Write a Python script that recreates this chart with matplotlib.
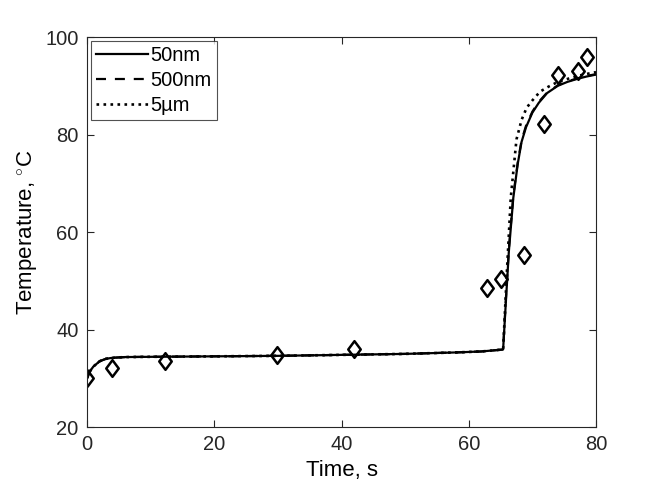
import matplotlib
matplotlib.use("Agg")
import matplotlib.pyplot as plt
from matplotlib.path import Path

matplotlib.rcParams.update({
    "font.family": "Liberation Sans",
    "mathtext.fontset": "custom",
    "mathtext.rm": "Liberation Sans",
    "font.size": 14.5,
})

# measured points
t_meas = [0.0, 4.0, 12.2, 29.9, 41.9, 62.8, 65.0, 68.7, 71.8, 74.1, 77.1, 78.6]
T_meas = [30.0, 32.2, 33.5, 34.8, 36.0, 48.6, 50.4, 55.3, 82.2, 92.2, 93.1, 96.0]

# simulated curves
t_50 = [0, 0.5, 1, 2, 3, 4, 6, 10, 20, 30, 40, 50, 58, 62, 65.4,
        65.8, 66.3, 67.0, 67.7, 68.3, 69.0, 70.0, 71.0, 72.3, 74.0, 75.5, 77.0, 78.5, 80]
T_50 = [30.0, 31.5, 32.4, 33.5, 34.0, 34.2, 34.35, 34.4, 34.5, 34.6, 34.8, 35.0, 35.3, 35.5, 35.9,
        45.0, 56.0, 67.0, 74.0, 78.5, 81.5, 84.5, 86.5, 88.5, 90.0, 90.8, 91.4, 91.9, 92.3]

t_500 = t_50
T_500 = [30.0, 31.5, 32.4, 33.5, 34.0, 34.2, 34.35, 34.4, 34.5, 34.6, 34.8, 35.0, 35.3, 35.5, 35.9,
         45.5, 56.5, 67.5, 74.3, 78.8, 81.8, 84.7, 86.7, 88.6, 90.1, 90.9, 91.5, 92.0, 92.4]

t_5u = [0, 0.5, 1, 2, 3, 4, 6, 10, 20, 30, 40, 50, 58, 62, 65.4,
        65.7, 66.0, 66.6, 67.5, 68.3, 69.1, 70.0, 71.2, 72.5, 74.0, 76.0, 78.0, 80]
T_5u = [30.0, 31.5, 32.4, 33.5, 34.0, 34.2, 34.35, 34.4, 34.5, 34.6, 34.8, 35.0, 35.3, 35.5, 35.9,
        44.0, 52.0, 67.0, 79.0, 83.0, 85.5, 87.0, 88.8, 89.8, 90.8, 91.6, 92.3, 92.8]

# matlab-like diamond
diamond = Path([(0, 1), (0.75, 0), (0, -1), (-0.75, 0), (0, 1)],
               [Path.MOVETO, Path.LINETO, Path.LINETO, Path.LINETO, Path.CLOSEPOLY])

fig = plt.figure(figsize=(6.58, 4.94), dpi=100)
ax = fig.add_axes([0.1322, 0.1356, 0.7736, 0.7894])

ax.plot(t_50, T_50, "k-", lw=1.6, label="50nm")
ax.plot(t_500, T_500, "k--", lw=1.6, dashes=(4.5, 4), label="500nm")
ax.plot(t_5u, T_5u, "k:", lw=1.9, label="5\u00b5m")
ax.plot(t_meas, T_meas, "k", ls="none", marker=diamond, ms=12, mfc="none", mew=1.8)

ax.set_xlim(0, 80)
ax.set_ylim(20, 100)
ax.set_xticks([0, 20, 40, 60, 80])
ax.set_yticks([20, 40, 60, 80, 100])
ax.set_xlabel("Time, s", fontsize=16)
ax.set_ylabel("Temperature, $^{\\circ}$C", fontsize=16)

for s in ax.spines.values():
    s.set_color("#262626")
    s.set_linewidth(0.8)
ax.tick_params(direction="in", length=5, colors="#262626", labelsize=14.5,
               top=True, right=True, pad=6)

leg = ax.legend(loc="upper left", fontsize=14.5, frameon=True, fancybox=False,
                edgecolor="#262626", handlelength=2.6, handletextpad=0.1,
                borderaxespad=0.2, borderpad=0.25, labelspacing=0.3)
leg.get_frame().set_linewidth(0.8)

fig.savefig("out.png", dpi=100)
